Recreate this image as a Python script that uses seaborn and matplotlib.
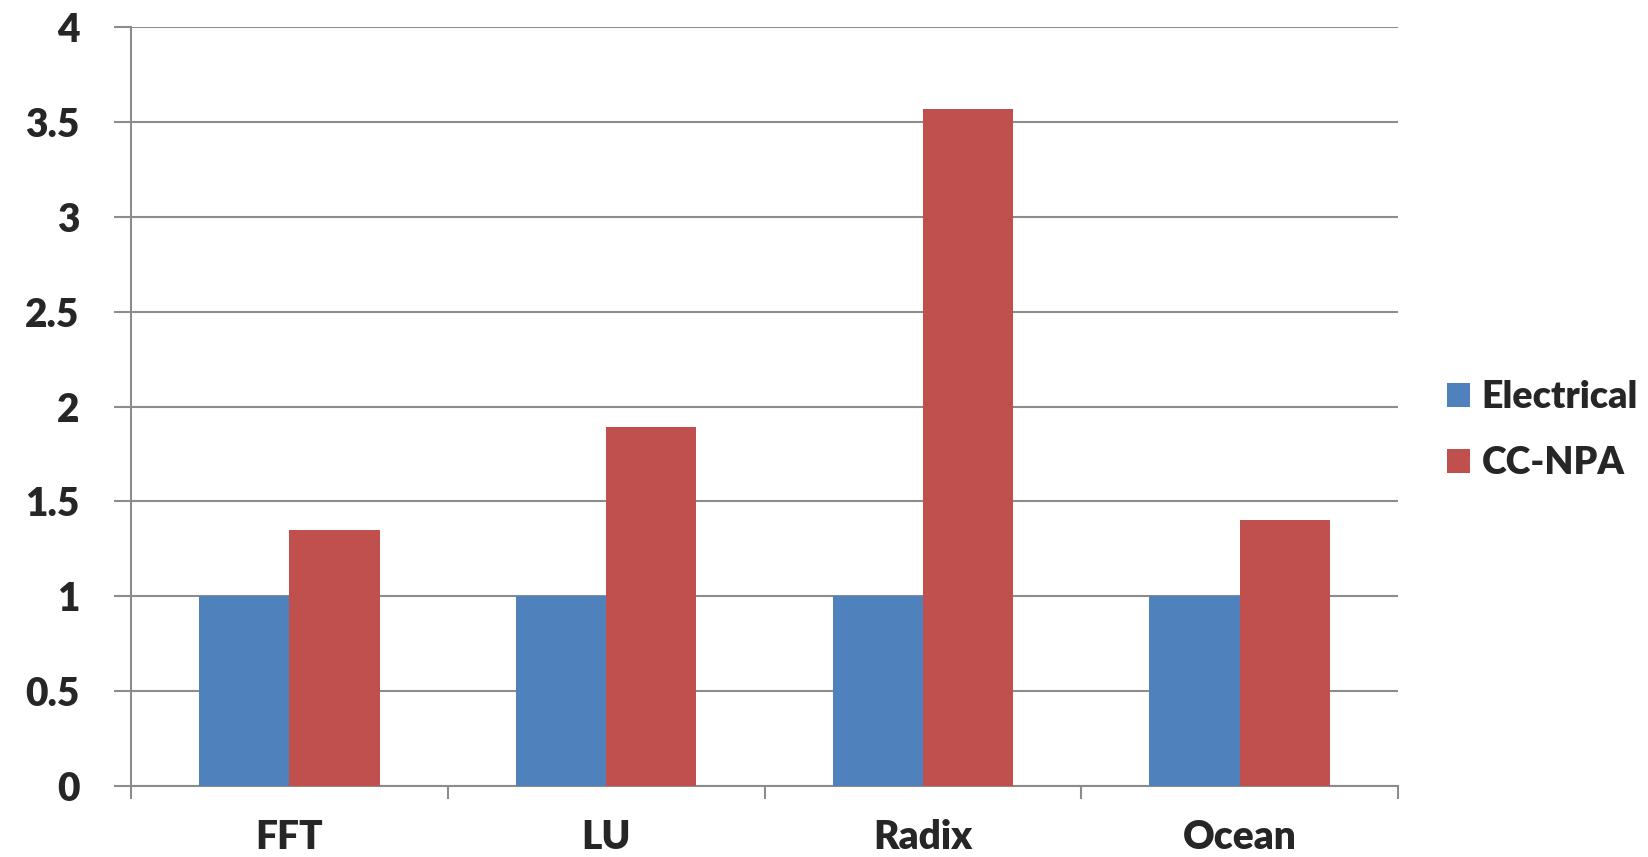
import pandas as pd
import seaborn as sns
import matplotlib.pyplot as plt
from matplotlib.ticker import FixedLocator, FuncFormatter

# chart values
categories = ["FFT", "LU", "Radix", "Ocean"]
electrical = [1.0, 1.0, 1.0, 1.0]
cc_npa = [1.35, 1.89, 3.57, 1.40]
y_ticks = [0, 0.5, 1, 1.5, 2, 2.5, 3, 3.5, 4]

df = pd.DataFrame({
    "app": categories * 2,
    "series": ["Electrical"] * 4 + ["CC-NPA"] * 4,
    "value": electrical + cc_npa,
})

sns.set_style("white")
plt.rcParams['font.family'] = ['Lato', 'DejaVu Sans']
W = "heavy"

grid_c = "#8c8c8c"
fig = plt.figure(figsize=(16.48, 8.57), dpi=100)
ax = fig.add_axes([131 / 1648, 1 - 786 / 857, (1398 - 131) / 1648, (786 - 27) / 857])

sns.barplot(data=df, x="app", y="value", hue="series", order=categories,
            palette=["#4F81BD", "#C0504D"], width=0.57, saturation=1,
            linewidth=0, ax=ax, zorder=3)

ax.set_xlim(-0.5, 3.5)
ax.set_yticks(y_ticks)
ax.yaxis.set_major_formatter(FuncFormatter(lambda v, p: f"{v:g}"))
ax.set_ylim(0, 4)
ax.grid(axis="y", color=grid_c, linewidth=1.5, zorder=0)
ax.set_axisbelow(True)

for s in ["top", "right"]:
    ax.spines[s].set_visible(False)
for s in ["left", "bottom"]:
    ax.spines[s].set_color(grid_c)
    ax.spines[s].set_linewidth(1.5)

ax.tick_params(axis="y", length=12, width=1.5, color=grid_c, pad=25,
               labelsize=28, left=True)
ax.tick_params(axis="x", which="major", length=0, pad=24, labelsize=28)
ax.xaxis.set_minor_locator(FixedLocator([-0.5, 0.5, 1.5, 2.5, 3.5]))
ax.tick_params(axis="x", which="minor", length=9, width=1.5, color=grid_c,
               bottom=True)
for lab in ax.get_xticklabels() + ax.get_yticklabels():
    lab.set_fontweight(W)

ax.set_xlabel("")
ax.set_ylabel("")

handles, labels = ax.get_legend_handles_labels()
ax.legend(handles, labels, loc="center left", bbox_to_anchor=(1.027, 0.469),
          frameon=False, prop={"size": 27, "weight": W},
          handlelength=0.62, handleheight=0.62, handletextpad=0.3,
          labelspacing=0.85, borderaxespad=0)

fig.savefig("out.png", dpi=100)
